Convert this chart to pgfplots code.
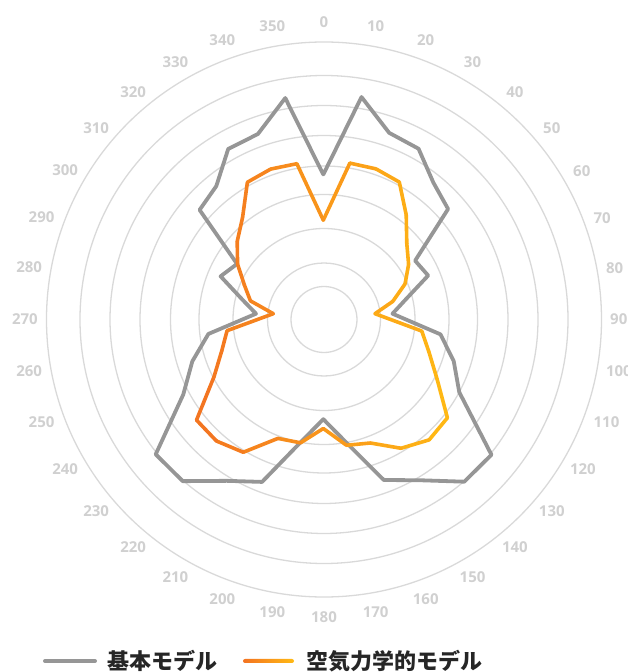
\documentclass[border=0pt]{standalone}
\usepackage{fontspec}
\setmainfont{Open Sans}
\newfontfamily\cjk{Noto Sans CJK JP}
\usepackage{pgfplots}
\pgfplotsset{compat=1.18}
\usepackage{pgfplotstable}
\usepgfplotslibrary{polar}
\definecolor{gridc}{RGB}{217,217,217}
\definecolor{lblc}{RGB}{208,208,208}
\definecolor{grayc}{RGB}{150,150,150}
\definecolor{oc}{RGB}{243,115,33}
\definecolor{yc}{RGB}{255,185,20}
\definecolor{txt}{RGB}{38,38,38}

\pgfplotstableread{
a g o
0 139.2 93.5
10 220 152.9
20 192.5 154.1
30 190.5 152
40 171.2 129
50 162.9 109
60 106 98.5
70 111.6 87
80 84 70.5
90 69.2 51.7
100 119 100
110 138.8 112.5
120 157 131.5
130 219.5 162
140 219.3 164.7
150 192.3 155.4
160 177 137.6
170 130.5 133.6
180 105.5 114.8
190 130.5 131.1
200 179 132.7
210 193 160
220 218.6 166.2
230 218.8 165.5
240 161.7 126.2
250 139.4 108
260 116.7 97.7
270 67.3 50
280 82.4 74
290 109.3 84
300 99.6 99
310 161.5 112.4
320 166.5 125.6
330 190.2 151.8
340 191.2 153.9
350 219 152.3
360 139.2 93.5
}\data

\begin{document}
\begin{tikzpicture}
\useasboundingbox (0,0) rectangle (628pt,672pt);
% grid axis
\begin{polaraxis}[
  at={(324pt,352.5pt)}, anchor=origin,
  scale only axis, width=555pt, height=555pt,
  xmin=0, xmax=360, ymin=0, ymax=277.5,
  enlargelimits=false,
  xtick=\empty,
  ytick={33,56.5,91,125,153.5,184,214,244},
  yticklabels={},
  major tick length=0pt,
  ymajorgrids=true, xmajorgrids=false,
  grid style={draw=gridc, line width=1.3pt},
  x axis line style={draw=gridc, line width=1.3pt},
  y axis line style={draw=none},
]
\end{polaraxis}
% angle labels
\begin{scope}[shift={(324pt,352.5pt)}]
\foreach \t in {0,10,...,350}{
  \pgfmathtruncatemacro\m{90-\t}
  \pgfmathtruncatemacro\an{mod(630-\t,360)}
  \pgfmathsetmacro\R{286+6*cos(\t)^2}
  \node[anchor=\an, inner sep=0pt, text=lblc, font=\fontsize{15}{17}\selectfont\bfseries] at (\m:\R pt) {\t};
}
\end{scope}
% data axis
\begin{polaraxis}[
  at={(323.3pt,358.3pt)}, anchor=origin,
  scale only axis, width=555pt, height=555pt,
  xmin=0, xmax=360, ymin=0, ymax=277.5,
  enlargelimits=false, hide axis, clip=false,
  colormap={oy}{rgb255(0cm)=(243,115,33); rgb255(1cm)=(255,185,20)},
  point meta min=-125, point meta max=125,
]
\addplot[draw=grayc, line width=3.8pt, line join=round, line cap=round]
  table[x expr={90-\thisrow{a}}, y=g] {\data};
\addplot[mesh, line width=3.6pt, line cap=round,
  point meta={\thisrow{o}*sin(\thisrow{a})}]
  table[x expr={90-\thisrow{a}}, y=o] {\data};
\end{polaraxis}
% legend
\draw[grayc, line width=4pt, line cap=round] (45pt,11pt) -- (95pt,11pt);
\node[anchor=west, inner sep=0pt, text=txt, font=\cjk\bfseries\fontsize{22}{24}\selectfont] at (107pt,11pt) {基本モデル};
\shade[left color=oc, right color=yc, rounded corners=2pt] (243pt,9pt) rectangle (294pt,13pt);
\node[anchor=west, inner sep=0pt, text=txt, font=\cjk\bfseries\fontsize{22}{24}\selectfont] at (306pt,11pt) {空気力学的モデル};
\end{tikzpicture}
\end{document}
